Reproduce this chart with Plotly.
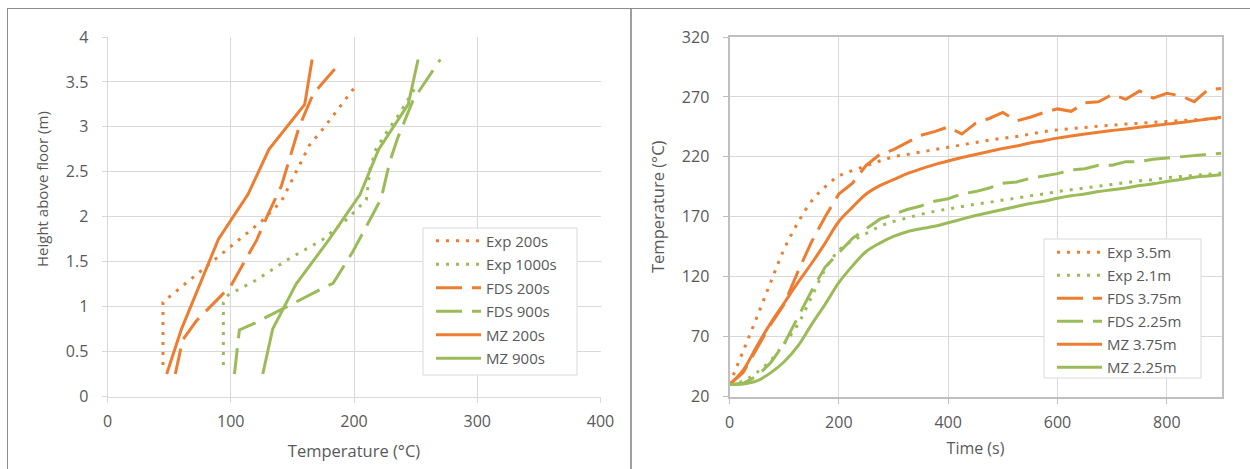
import plotly.graph_objects as go

# ---------------- Left chart: vertical temperature profiles ----------------
exp200_T = [45, 45, 52, 68, 87, 107, 125, 141, 153, 164, 175, 200]
exp200_h = [0.35, 1.05, 1.13, 1.31, 1.52, 1.74, 1.95, 2.17, 2.49, 2.80, 2.98, 3.43]

exp1000_T = [94, 94, 98, 120, 147, 174, 195, 210, 213, 218, 227, 236, 249]
exp1000_h = [0.35, 1.05, 1.13, 1.29, 1.53, 1.74, 1.98, 2.19, 2.53, 2.76, 2.95, 3.13, 3.42]

fds200_T = [55, 61, 72, 100, 121, 130, 141, 155.5, 167, 188]
fds200_h = [0.25, 0.63, 0.84, 1.23, 1.74, 2.02, 2.34, 3.00, 3.37, 3.70]

fds900_T = [103, 107, 120, 145, 174, 183, 199, 222, 229, 235, 248, 270]
fds900_h = [0.25, 0.74, 0.82, 1.00, 1.20, 1.26, 1.61, 2.20, 2.61, 2.86, 3.30, 3.75]

mz200_T = [48, 60, 90, 114, 131, 160, 166]
mz200_h = [0.25, 0.75, 1.75, 2.25, 2.75, 3.25, 3.75]

mz900_T = [126, 134, 153, 180, 205, 220, 244, 252]
mz900_h = [0.25, 0.75, 1.25, 1.75, 2.25, 2.75, 3.25, 3.75]

# ---------------- Right chart: temperature vs time ----------------
time_s = [0, 25, 50, 75, 100, 125, 150, 175, 200, 225, 250, 275, 300, 325, 350,
          375, 400, 425, 450, 475, 500, 525, 550, 575, 600, 625, 650, 675, 700,
          725, 750, 775, 800, 825, 850, 875, 900]

exp35 = [30, 58, 86, 115, 143, 165, 183, 195, 204, 208.5, 212.5, 216.5, 220, 222,
         224, 226, 228, 230, 232, 234, 235.5, 237, 239, 241, 242.5, 243.5, 244.5,
         245.5, 246.5, 247.3, 248, 248.8, 249.5, 250.2, 251, 251.5, 252]
exp21 = [30, 33, 40, 50, 64, 80, 103, 126, 142, 150, 156, 162, 166, 169, 172,
         174.5, 176.5, 178.5, 180.5, 182, 184, 185.5, 187.5, 189, 191, 192.5, 194,
         195.5, 197, 198.5, 200, 201, 202.5, 203.5, 204.5, 205.5, 206.5]
fds375 = [30, 40, 60, 80, 97, 124, 149, 170, 189, 198, 213, 222, 226, 232, 238,
          241, 245, 239, 248, 252, 257, 250, 253, 257, 260, 258, 265, 266, 272,
          268, 275, 269, 273, 271, 266, 276, 277]
fds225 = [30, 31, 37, 48, 64, 86, 108, 128, 140, 152, 160, 168, 172, 176, 179,
          183, 185, 189, 191, 194, 198, 199, 202, 204, 206, 209, 210, 213, 213,
          216, 216, 218, 219, 220, 221, 222, 223]
mz375 = [30, 42, 62, 81, 98, 115, 131, 148, 166, 178, 189, 196, 201, 206, 210,
         213.5, 216.5, 219.5, 222, 224.5, 227, 229, 231.5, 233.5, 235.6, 237.3, 239,
         240.5, 242, 243.3, 244.6, 246, 247.3, 248.6, 250, 251.5, 253]
mz225 = [30, 30.5, 33, 39.7, 49, 62, 80, 97, 115, 129, 141, 148, 153.6, 157.5, 160,
         162, 165, 168, 171, 173.5, 176, 178.5, 181, 183, 185.5, 187.5, 189, 191,
         192.5, 194, 196, 197.5, 199.4, 201, 203, 204, 205]

ORANGE = "#ED7D31"
GREEN = "#9BBB59"
TEXT = "#595959"
GRID = "#D9D9D9"
AXIS = "#BFBFBF"
FONT = "Open Sans"
DOT = "3px,7px"
LDASH = "26px,10px"
LW = 3

fig = go.Figure()

left = [
    ("Exp 200s", exp200_T, exp200_h, ORANGE, DOT),
    ("Exp 1000s", exp1000_T, exp1000_h, GREEN, DOT),
    ("FDS 200s", fds200_T, fds200_h, ORANGE, LDASH),
    ("FDS 900s", fds900_T, fds900_h, GREEN, LDASH),
    ("MZ 200s", mz200_T, mz200_h, ORANGE, "solid"),
    ("MZ 900s", mz900_T, mz900_h, GREEN, "solid"),
]
for i, (name, xs, ys, col, dash) in enumerate(left):
    fig.add_trace(go.Scatter(x=xs, y=ys, mode="lines", name=name,
                             line=dict(color=col, width=LW, dash=dash),
                             xaxis="x", yaxis="y", legend="legend",
                             legendgroup="L%d" % i))

right = [
    ("Exp 3.5m", exp35, ORANGE, DOT, "spline"),
    ("Exp 2.1m", exp21, GREEN, DOT, "spline"),
    ("FDS 3.75m", fds375, ORANGE, LDASH, "linear"),
    ("FDS 2.25m", fds225, GREEN, LDASH, "linear"),
    ("MZ 3.75m", mz375, ORANGE, "solid", "spline"),
    ("MZ 2.25m", mz225, GREEN, "solid", "spline"),
]
for i, (name, ys, col, dash, shape) in enumerate(right):
    fig.add_trace(go.Scatter(x=time_s, y=ys, mode="lines", name=name,
                             line=dict(color=col, width=LW, dash=dash, shape=shape),
                             xaxis="x2", yaxis="y2", legend="legend2",
                             legendgroup="R%d" % i))

W, H = 1250, 469
def px(x):
    return x / W
def py(y):
    return 1 - y / H

tickfont = dict(family=FONT, size=16, color=TEXT)

common = dict(showgrid=True, gridcolor=GRID, gridwidth=1, zeroline=False,
              showline=True, ticks="outside", ticklen=5, tickfont=tickfont,
              automargin=False)

legend_common = dict(font=dict(family=FONT, size=15, color=TEXT),
                     bgcolor="rgba(0,0,0,0)", borderwidth=0,
                     xanchor="left", yanchor="top", itemwidth=45,
                     traceorder="grouped")

frame = "#8C8C8C"
fig.update_layout(
    width=W, height=H, autosize=False,
    margin=dict(l=0, r=0, t=0, b=0),
    paper_bgcolor="white", plot_bgcolor="white",
    font=dict(family=FONT, color=TEXT),
    xaxis=dict(domain=[px(107.5), px(600.5)], range=[0, 400], dtick=100,
               anchor="y", linecolor=GRID, tickcolor=GRID, ticklabelstandoff=5,
               title=dict(text="Temperature (°C)",
                          font=dict(family=FONT, size=16.5, color=TEXT), standoff=14),
               **common),
    yaxis=dict(domain=[py(396.5), py(37)], range=[0, 4], dtick=0.5,
               anchor="x", linecolor=GRID, tickcolor=GRID, ticklabelstandoff=10,
               **common),
    xaxis2=dict(domain=[px(729.5), px(1221.5)], range=[0, 900], dtick=200, tick0=0,
                anchor="y2", linecolor=AXIS, linewidth=2, tickcolor=AXIS, mirror=True,
                ticklabelstandoff=5,
                title=dict(text="Time (s)",
                           font=dict(family=FONT, size=16, color=TEXT), standoff=11),
                **common),
    yaxis2=dict(domain=[py(396.5), py(37)], range=[20, 320], dtick=50, tick0=20,
                anchor="x2", linecolor=AXIS, linewidth=2, tickcolor=AXIS, mirror=True,
                ticklabelstandoff=10,
                **common),
    legend=dict(x=px(431), y=py(224.5), tracegroupgap=1, **legend_common),
    legend2=dict(x=px(1052), y=py(236), tracegroupgap=0.5, **legend_common),
    annotations=[
        dict(text="Height above floor (m)", xref="paper", yref="paper",
             x=px(42), y=py(189), textangle=-90, showarrow=False,
             xanchor="center", yanchor="middle",
             font=dict(family=FONT, size=15, color=TEXT)),
        dict(text="Temperature (°C)", xref="paper", yref="paper",
             x=px(657), y=py(207), textangle=-90, showarrow=False,
             xanchor="center", yanchor="middle",
             font=dict(family=FONT, size=16.5, color=TEXT)),
    ],
    shapes=[
        dict(type="line", xref="paper", yref="paper", x0=px(7), x1=1, y0=py(8.5), y1=py(8.5),
             line=dict(color=frame, width=1)),
        dict(type="line", xref="paper", yref="paper", x0=px(7.5), x1=px(7.5), y0=py(8.5), y1=0,
             line=dict(color=frame, width=1)),
        dict(type="line", xref="paper", yref="paper", x0=px(631), x1=px(631), y0=py(8.5), y1=0,
             line=dict(color="#7F7F7F", width=1.5)),
        # legend boxes
        dict(type="rect", xref="paper", yref="paper", layer="above",
             x0=px(423), x1=px(577), y0=py(375), y1=py(228),
             fillcolor="white", line=dict(color=GRID, width=1)),
        dict(type="rect", xref="paper", yref="paper", layer="above",
             x0=px(1044), x1=px(1201), y0=py(378), y1=py(239),
             fillcolor="white", line=dict(color=GRID, width=1)),
    ],
)

fig.write_html("out.html", default_width="1250px", default_height="469px",
               config={"displayModeBar": False},
               post_script="document.body.style.margin='0px';")
